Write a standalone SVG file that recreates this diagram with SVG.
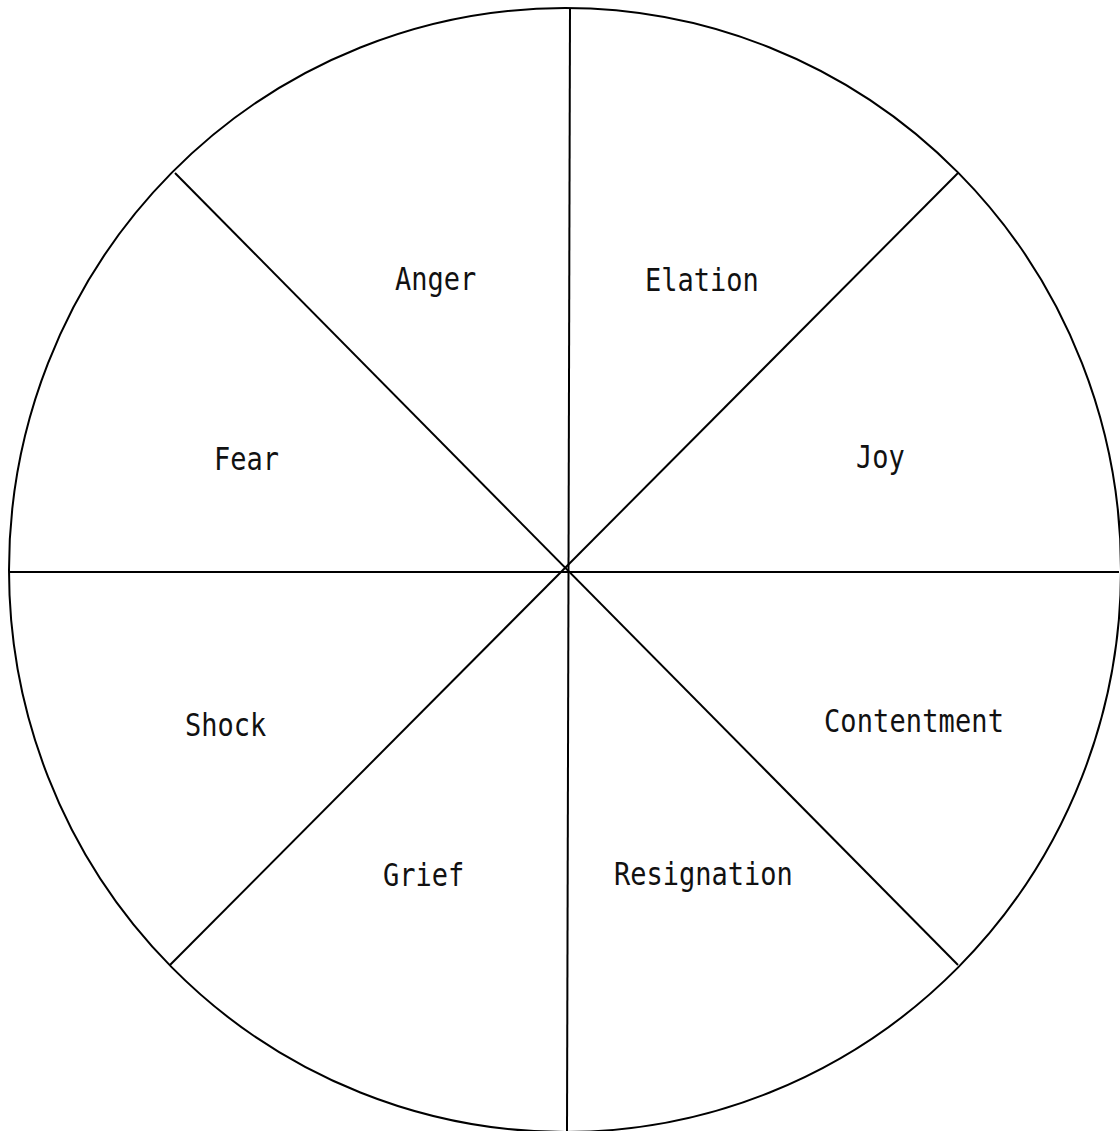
<svg xmlns="http://www.w3.org/2000/svg" width="1120" height="1131" viewBox="0 0 1120 1131">
<style>
.l{stroke:#000;stroke-width:2;fill:none}
.t{font-family:"DejaVu Sans Mono","Liberation Mono",monospace;font-size:27px;fill:#111}
</style>
<rect width="1120" height="1131" fill="#fff"/>
<g id="connectors">
<ellipse class="l" cx="565" cy="570" rx="556" ry="562"/>
<line class="l" x1="570" y1="8" x2="567" y2="1131"/>
<line class="l" x1="10" y1="572" x2="1119" y2="572"/>
<line class="l" x1="175" y1="173" x2="958" y2="965"/>
<line class="l" x1="958" y1="173" x2="170" y2="965"/>
</g>
<g id="anger" transform="translate(395,290) scale(1,1.2)"><text class="t">Anger</text></g>
<g id="elation" transform="translate(645,291) scale(1,1.2)"><text class="t">Elation</text></g>
<g id="fear" transform="translate(214,470) scale(1,1.2)"><text class="t">Fear</text></g>
<g id="joy" transform="translate(856,468) scale(1,1.2)"><text class="t">Joy</text></g>
<g id="shock" transform="translate(185,736) scale(1,1.2)"><text class="t">Shock</text></g>
<g id="contentment" transform="translate(824,732) scale(1,1.2)"><text class="t" textLength="180">Contentment</text></g>
<g id="grief" transform="translate(383,886) scale(1,1.2)"><text class="t">Grief</text></g>
<g id="resignation" transform="translate(614,885) scale(1,1.2)"><text class="t">Resignation</text></g>
</svg>
